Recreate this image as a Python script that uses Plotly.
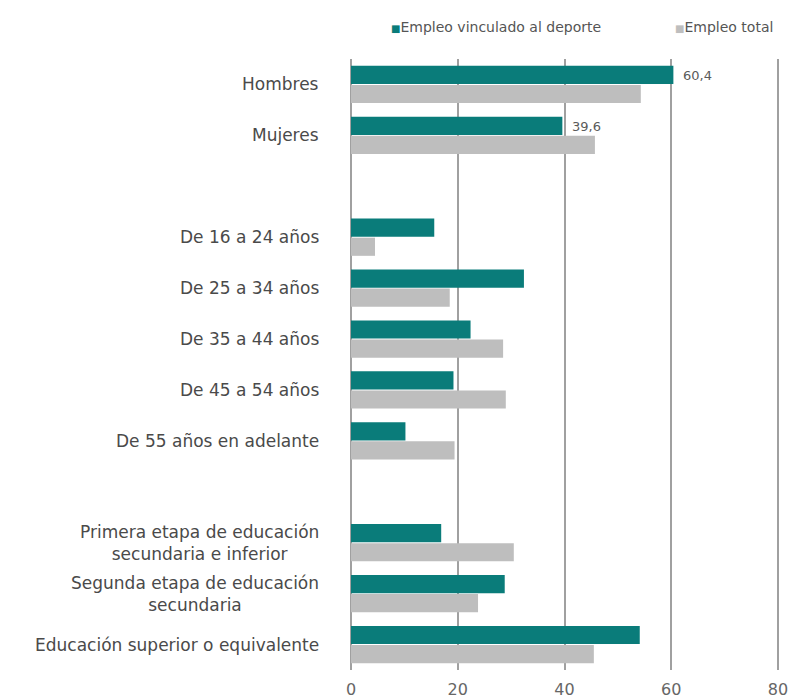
import plotly.graph_objects as go

# Category labels and their slot on the vertical axis (gaps separate the groups)
categories = [
    "Hombres",
    "Mujeres",
    "De 16 a 24 años",
    "De 25 a 34 años",
    "De 35 a 44 años",
    "De 45 a 54 años",
    "De 55 años en adelante",
    "Primera etapa de educación<br>secundaria e inferior",
    "Segunda etapa de educación<br>secundaria",
    "Educación superior o equivalente",
]
slots = [0, 1, 3, 4, 5, 6, 7, 9, 10, 11]

# Percentages
empleo_deporte = [60.4, 39.6, 15.6, 32.4, 22.4, 19.2, 10.2, 16.9, 28.8, 54.1]
empleo_total = [54.3, 45.7, 4.5, 18.5, 28.5, 29.0, 19.4, 30.5, 23.8, 45.5]

# Value labels shown only for the sex breakdown
labelled = [0, 1]

series_names = ["Empleo vinculado al deporte", "Empleo total"]
x_ticks = [0, 20, 40, 60, 80]

TEAL = "#0a7c7a"
GREY = "#bebebe"
FONT = "DejaVu Sans"
TEXT = "#4a4a4a"


def fmt(v):
    return f"{v:.1f}".replace(".", ",")


fig = go.Figure()
fig.add_trace(go.Bar(
    name=series_names[0],
    y=slots, x=empleo_deporte, orientation="h",
    marker=dict(color=TEAL, line=dict(width=0)),
    showlegend=False,
))
fig.add_trace(go.Bar(
    name=series_names[1],
    y=slots, x=empleo_total, orientation="h",
    marker=dict(color=GREY, line=dict(width=0)),
    showlegend=False,
))

# Value labels next to the teal bars
for i in labelled:
    fig.add_annotation(
        x=empleo_deporte[i], xref="x", xanchor="left", xshift=8,
        y=slots[i], yref="y", yanchor="middle", yshift=9,
        text=fmt(empleo_deporte[i]), showarrow=False,
        font=dict(family=FONT, size=13, color="#5a5a5a"),
    )

# Category labels, lines centred within each label
for s, label in zip(slots, categories):
    fig.add_annotation(
        x=0, xref="paper", xanchor="right", xshift=-30,
        y=s, yref="y", yanchor="middle",
        text=label, showarrow=False, align="center",
        font=dict(family=FONT, size=17, color=TEXT),
    )

# Compact legend above the plot
legend_pos = [(0.0875, series_names[0], TEAL), (0.741, series_names[1], GREY)]
for xp, name, col in legend_pos:
    fig.add_annotation(
        x=xp, xref="paper", xanchor="left",
        y=1.052, yref="paper", yanchor="middle",
        text=f"<span style='color:{col};font-size:10px'>■</span>{name}",
        showarrow=False,
        font=dict(family=FONT, size=14, color="#555555"),
    )

fig.update_layout(
    width=790, height=698,
    margin=dict(l=351, r=4, t=59, b=28),
    paper_bgcolor="white", plot_bgcolor="white",
    barmode="group", bargap=0.25, bargroupgap=0.05,
    font=dict(family=FONT, color=TEXT),
    showlegend=False,
    xaxis=dict(
        range=[0, 81.5], tickvals=x_ticks, ticktext=[str(v) for v in x_ticks],
        showgrid=True, gridcolor="#a0a0a0", gridwidth=1.5,
        zeroline=True, zerolinecolor="#a0a0a0", zerolinewidth=1.5,
        showline=False, ticks="", automargin=False,
        ticklabelstandoff=8,
        tickfont=dict(family=FONT, size=16, color="#666666"),
    ),
    yaxis=dict(
        range=[11.5, -0.5], showticklabels=False, showgrid=False,
        zeroline=False, showline=False, ticks="", automargin=False,
    ),
)

fig.write_html("out.html")
